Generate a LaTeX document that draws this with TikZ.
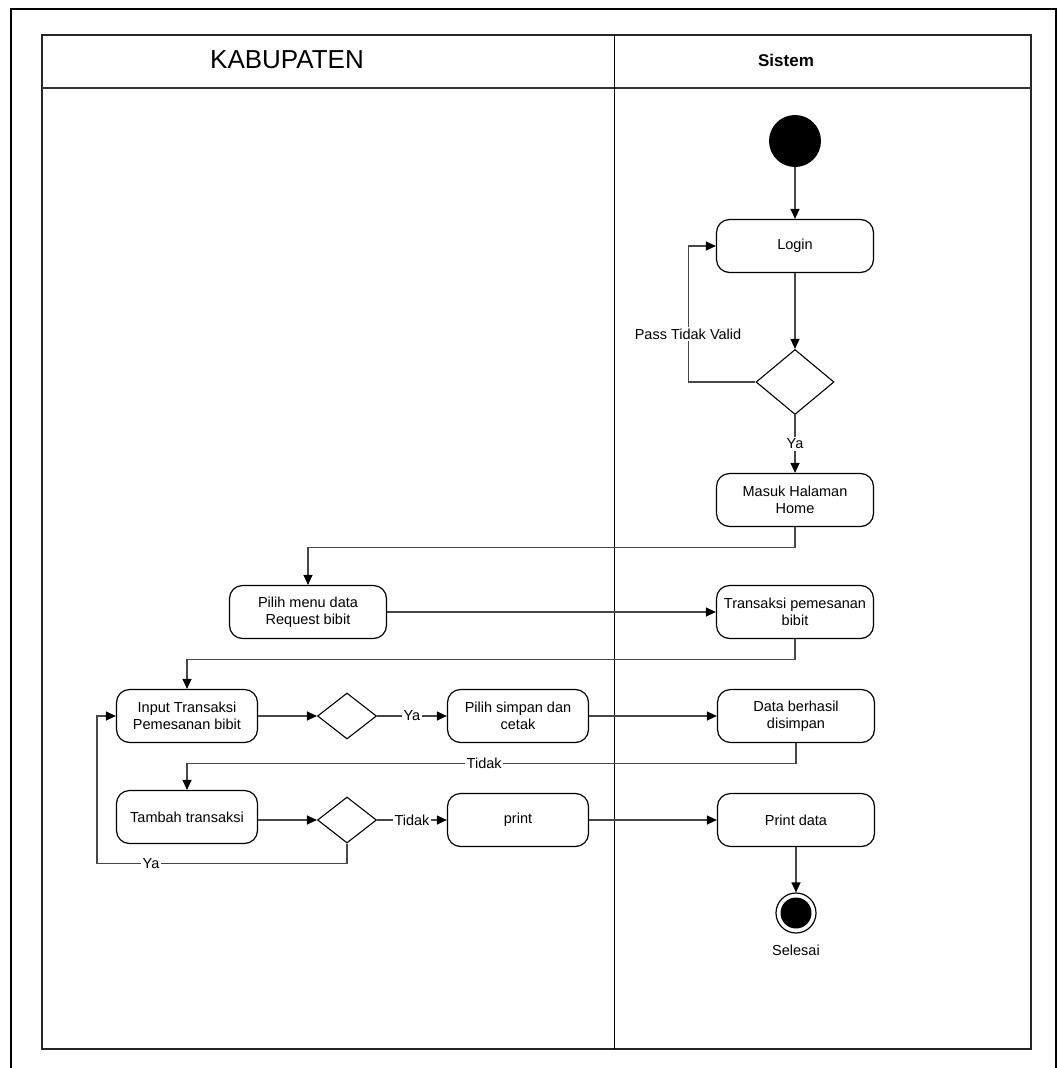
\documentclass[tikz,border=0pt]{standalone}
\usepackage{fontspec}
\setmainfont{Liberation Sans}
\usetikzlibrary{shapes.geometric,arrows.meta}

\begin{document}
\begin{tikzpicture}[x=1pt,y=-1pt,
  txt/.style={font=\fontsize{14.5}{17}\selectfont},
  act/.style={txt, draw=black, line width=1.2pt, rounded corners=13pt,
    minimum width=157pt, minimum height=53pt, align=center, inner sep=2pt},
  actn/.style={act, minimum width=141pt},
  dec/.style={draw=black, diamond, line width=1.1pt, inner sep=0pt,
    minimum width=59pt, minimum height=46pt},
  flow/.style={draw=black!72, line width=1.2pt,
    -{Triangle[length=10pt,width=9pt,color=black]}},
  lbl/.style={txt, fill=white, inner sep=1.5pt, text=black}
]
\useasboundingbox (0,0) rectangle (1057,1068);

% page frame
\draw[line width=2pt] (11,1068) -- (11,9) -- (1056,9) -- (1056,1068);

% swimlanes
\draw[line width=1.3pt, draw=black!85] (42,35) rectangle (1031,1049);
\draw[line width=1.3pt, draw=black!80] (42,88) -- (1031,88);
\draw[line width=1pt] (614,35) -- (614,1049);
\node[font=\fontsize{26}{30}\selectfont] (kab) at (287,60) {KABUPATEN};
\node[font=\bfseries\fontsize{17}{20}\selectfont] (sis) at (786,60) {Sistem};

% activities
\node[circle, fill=black, minimum size=52pt, inner sep=0pt] (start) at (795,141) {};
\node[act] (login) at (795,246) {Login};
\node[dec, minimum width=78pt, minimum height=65pt] (dlogin) at (795,382) {};
\node[act] (home) at (795,500) {Masuk Halaman\\Home};
\node[act] (menu) at (308,612) {Pilih menu data\\Request bibit};
\node[act] (trans) at (795,612) {Transaksi pemesanan\\bibit};
\node[actn] (input) at (187,716) {Input Transaksi\\Pemesanan bibit};
\node[dec] (d1) at (347,716) {};
\node[actn] (simpan) at (518,716) {Pilih simpan dan\\cetak};
\node[act] (data) at (796,716) {Data berhasil\\disimpan};
\node[actn] (tambah) at (187,817) {Tambah transaksi};
\node[dec] (d2) at (347,820) {};
\node[actn] (print) at (518,820) {print};
\node[act] (pdata) at (796,820) {Print data};
\node[circle, draw=black, line width=1.2pt, minimum size=40pt, inner sep=0pt] (end) at (796,913) {};
\fill[black] (end.center) circle (15.5);
\node[txt] (sel) at (796,950) {Selesai};

% flows
\draw[flow] (start) -- (login);
\draw[flow] (login) -- (dlogin);
\draw[flow] (dlogin.west) -- ++(-67,0) |- (login.west);
\node[lbl] (pass) at (688,334) {Pass Tidak Valid};
\draw[flow] (dlogin.south) -- node[lbl] {Ya} (home.north);
\draw[flow] (home.south) -- ++(0,20) -| (menu.north);
\draw[flow] (menu.east) -- (trans.west);
\draw[flow] (trans.south) -- ++(0,20) -| (input.north);
\draw[flow] (input.east) -- (d1.west);
\draw[flow] (d1.east) -- node[lbl] {Ya} (simpan.west);
\draw[flow] (simpan.east) -- (data.west);
\draw[flow] (data.south) -- ++(0,20) -| node[lbl, pos=0.256] {Tidak} (tambah.north);
\draw[flow] (tambah.east |- d2.west) -- (d2.west);
\draw[flow] (d2.east) -- node[lbl] {Tidak} (print.west);
\draw[flow] (print.east) -- (pdata.west);
\draw[flow] (pdata.south) -- (end.north);
\draw[flow] (d2.south) -- ++(0,20) -- node[lbl, pos=0.784] {Ya} ++(-250,0) |- (input.west);
\end{tikzpicture}
\end{document}
